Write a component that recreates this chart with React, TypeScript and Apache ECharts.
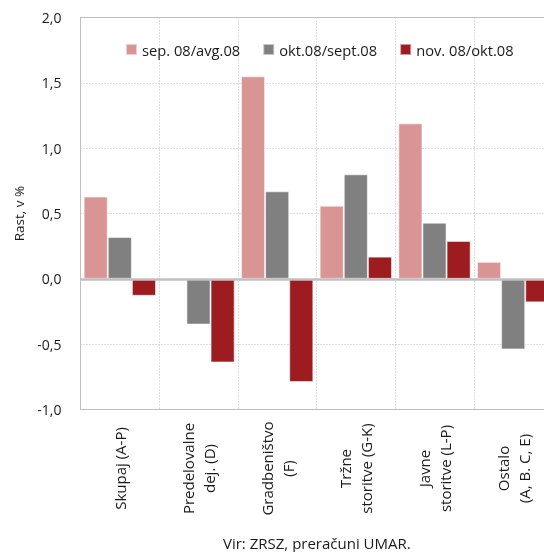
import React, { useEffect, useRef } from "react";
import * as echarts from "echarts";

const categories = [
  "Skupaj (A-P)",
  "Predelovalne\ndej. (D)",
  "Gradbeništvo\n(F)",
  "Tržne\nstoritve (G-K)",
  "Javne\nstoritve (L-P)",
  "Ostalo\n(A, B. C, E)",
];

const seriesNames = ["sep. 08/avg.08", "okt.08/sept.08", "nov. 08/okt.08"];

const sepAvg = [0.63, null, 1.55, 0.56, 1.19, 0.13];
const oktSept = [0.32, -0.35, 0.67, 0.8, 0.43, -0.54];
const novOkt = [-0.13, -0.64, -0.79, 0.17, 0.29, -0.18];

const colors = ["#D99594", "#808080", "#9C1C20"];

const FONT = "'Open Sans', 'Noto Sans', sans-serif";
const TEXT = "#1a1a1a";
const GRID_LINE = { color: "#bdbdbd", type: [1, 2], width: 1 };

export default function App() {
  const ref = useRef<HTMLDivElement>(null);

  useEffect(() => {
    if (!ref.current) return;
    const chart = echarts.init(ref.current, undefined, { renderer: "svg" });
    const values = [sepAvg, oktSept, novOkt];

    chart.setOption({
      animation: false,
      textStyle: { fontFamily: FONT },
      grid: {
        left: 80.5,
        top: 17.5,
        width: 472,
        height: 392,
        outerBoundsMode: "none",
        containLabel: false,
        show: true,
        borderColor: "#c0c0c0",
        borderWidth: 1,
      },
      legend: {
        left: 120,
        top: 37,
        itemWidth: 11,
        itemHeight: 11,
        itemGap: 22,
        icon: "rect",
        textStyle: { fontFamily: FONT, fontSize: 14.7, color: TEXT },
        data: seriesNames,
      },
      xAxis: {
        type: "category",
        data: categories,
        axisLine: { show: false, onZero: false },
        axisTick: { show: false },
        splitLine: {
          show: true,
          interval: 0,
          lineStyle: GRID_LINE,
        },
        axisLabel: {
          interval: 0,
          rotate: 90,
          align: "center",
          verticalAlign: "middle",
          margin: 59,
          fontFamily: FONT,
          fontSize: 15,
          lineHeight: 21,
          color: TEXT,
        },
      },
      yAxis: {
        type: "value",
        min: -1,
        max: 2,
        interval: 0.5,
        name: "Rast, v %",
        nameLocation: "middle",
        nameGap: 52,
        nameTextStyle: { fontFamily: FONT, fontSize: 13.5, color: TEXT },
        axisLine: { show: true, lineStyle: { color: "#c0c0c0", width: 1 } },
        axisTick: { show: false },
        axisLabel: {
          margin: 19,
          fontFamily: FONT,
          fontSize: 14,
          color: TEXT,
          formatter: (v: number) => v.toFixed(1).replace(".", ","),
        },
        splitLine: {
          show: true,
          lineStyle: GRID_LINE,
        },
      },
      series: seriesNames.map((name, i) => ({
        name,
        type: "bar",
        data: values[i],
        barGap: "0%",
        barCategoryGap: "8%",
        itemStyle: {
          color: colors[i],
          borderColor: "rgba(255,255,255,0.55)",
          borderWidth: 1,
        },
        markLine:
          i === 0
            ? {
                silent: true,
                symbol: ["none", "none"],
                label: { show: false },
                lineStyle: { color: "#c0c0c0", width: 2.5, type: "solid" },
                data: [{ yAxis: 0 }],
              }
            : undefined,
      })),
      graphic: [
        {
          type: "text",
          x: 223,
          y: 543,
          style: {
            text: "Vir: ZRSZ, preračuni UMAR.",
            fontFamily: FONT,
            fontSize: 15,
            fill: TEXT,
            verticalAlign: "middle",
          },
        },
      ],
    });

    return () => chart.dispose();
  }, []);

  return (
    <div
      ref={ref}
      style={{ position: "fixed", left: 0, top: 0, width: 544, height: 552 }}
    />
  );
}
